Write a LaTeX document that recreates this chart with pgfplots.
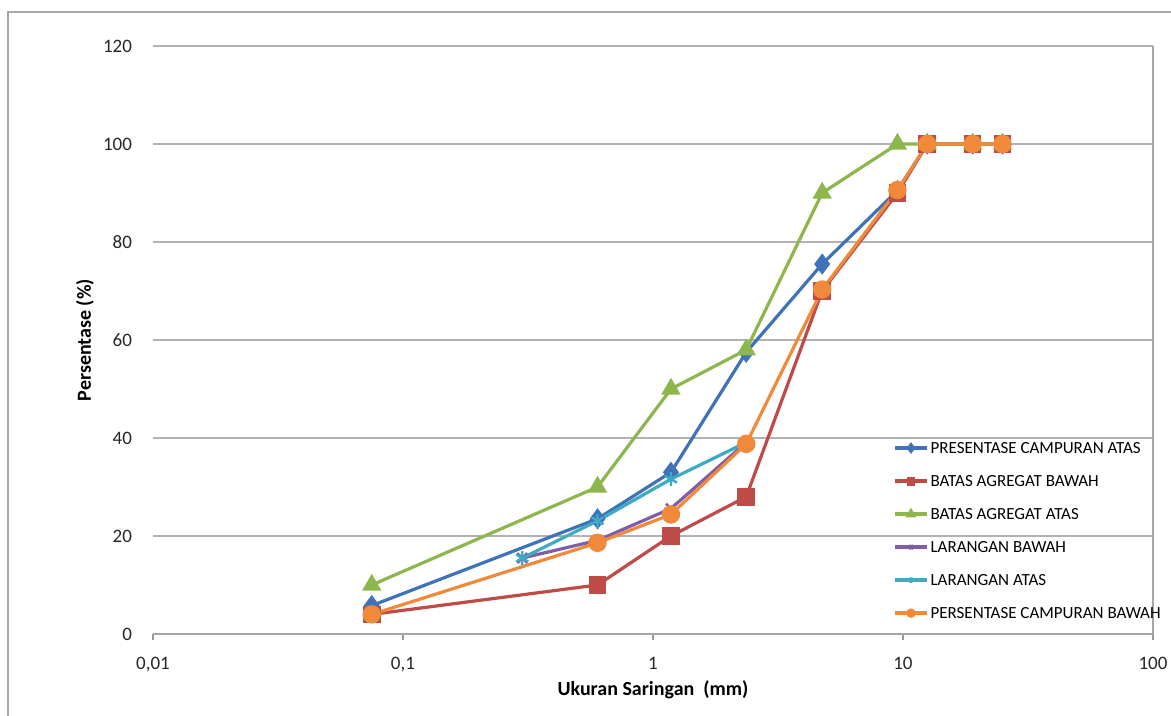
\documentclass[border=0pt]{standalone}
\usepackage{pgfplots}
\pgfplotsset{compat=1.18}
\usepackage{fontspec}
\setmainfont{Carlito}
\definecolor{cblue}{HTML}{3F72B6}
\definecolor{cred}{HTML}{BE4B48}
\definecolor{cgreen}{HTML}{8DB64C}
\definecolor{cpurple}{HTML}{7E5FA5}
\definecolor{ccyan}{HTML}{3FAAC4}
\definecolor{corange}{HTML}{F08A3A}
\begin{document}
\begin{tikzpicture}
\useasboundingbox (0pt,0pt) rectangle (585.5pt,358pt);
\draw[black!35, line width=1pt] (4pt,0pt) -- (4pt,352pt) -- (585.5pt,352pt);
\begin{axis}[
  at={(76.5pt,41pt)}, anchor=south west,
  scale only axis, width=500pt, height=294pt,
  xmode=log, xmin=0.01, xmax=100, ymin=0, ymax=120,
  xtick={0.01,0.1,1,10,100},
  xticklabels={{0,01},{0,1},1,10,100},
  ytick={0,20,40,60,80,100,120},
  xminorticks=false,
  xtick pos=bottom, ytick pos=left,
  /pgf/number format/assume math mode=true,
  ymajorgrids, grid style={black!30, line width=0.9pt},
  axis line style={draw=none},
  tick align=outside, major tick length=3pt,
  xtick style={black!40, line width=0.8pt},
  ytick style={draw=none},
  tick label style={font=\fontsize{9.5}{11}\selectfont, text=black!85},
  xticklabel style={yshift=-5pt},
  yticklabel style={xshift=-4pt},
  every axis y label/.style={at={(axis description cs:-0.068,0.5)}, rotate=90, anchor=center},
  every axis x label/.style={at={(axis description cs:0.5,-0.095)}, anchor=center},
  label style={font=\bfseries\fontsize{10}{12}\selectfont},
  xlabel={Ukuran Saringan\ \ (mm)},
  ylabel={Persentase (\%)},
  legend style={at={(axis description cs:0.740,0.333)}, anchor=north west, draw=none, fill=none,
    font=\fontsize{8.5}{10}\selectfont, row sep=7pt, inner sep=0pt,
    nodes={text height=6.5pt, text depth=1pt, inner sep=1pt}},
  legend cell align=left,
  legend image code/.code={
    \draw[#1, /tikz/every mark/.append style={scale=0.4}, mark repeat=2, mark phase=2]
      plot coordinates {(0pt,0pt) (8pt,0pt) (16pt,0pt)};},
  every axis plot/.append style={line width=1.6pt},
  clip=false,
]
\addplot[cblue, mark=diamond*, mark size=4pt, mark options={solid}] coordinates {
  (0.075,5.8) (0.6,23.5) (1.18,33) (2.36,57.5) (4.75,75.5) (9.5,90.5) (12.5,100) (19,100) (25,100)};
\addlegendentry{PRESENTASE CAMPURAN ATAS}
\addplot[cred, mark=square*, mark size=3.6pt] coordinates {
  (0.075,4) (0.6,10) (1.18,20) (2.36,28) (4.75,70) (9.5,90) (12.5,100) (19,100) (25,100)};
\addlegendentry{BATAS AGREGAT BAWAH}
\addplot[cgreen, mark=triangle*, mark size=4pt] coordinates {
  (0.075,10) (0.6,30) (1.18,50) (2.36,58) (4.75,90) (9.5,100) (12.5,100) (19,100) (25,100)};
\addlegendentry{BATAS AGREGAT ATAS}
\addplot[cpurple, mark=x, mark size=3.5pt, mark options={line width=1.2pt}] coordinates {
  (0.3,15.5) (0.6,19.1) (1.18,25.6) (2.36,39.1)};
\addlegendentry{LARANGAN BAWAH}
\addplot[ccyan, mark=asterisk, mark size=3.5pt, mark options={line width=1.2pt}] coordinates {
  (0.3,15.5) (0.6,23.1) (1.18,31.6) (2.36,39.1)};
\addlegendentry{LARANGAN ATAS}
\addplot[corange, mark=*, mark size=3.8pt] coordinates {
  (0.075,4) (0.6,18.6) (1.18,24.4) (2.36,38.8) (4.75,70.3) (9.5,90.6) (12.5,100) (19,100) (25,100)};
\addlegendentry{PERSENTASE CAMPURAN BAWAH}
\draw[black!35, line width=0.9pt] (rel axis cs:0,0) -- (rel axis cs:1,0) -- (rel axis cs:1,1);
\end{axis}
\end{tikzpicture}
\end{document}
